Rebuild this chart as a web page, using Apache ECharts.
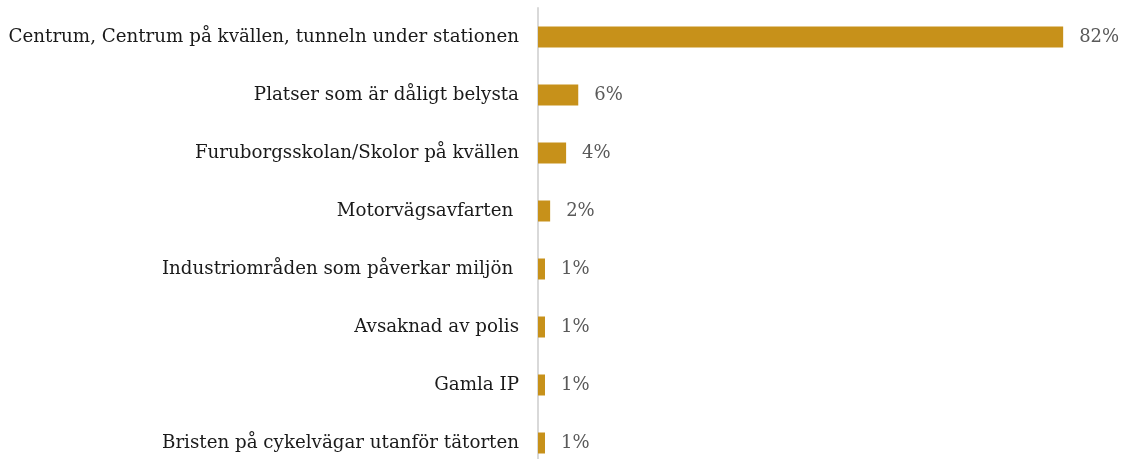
<!DOCTYPE html>
<html>
<head>
<meta charset="utf-8">
<script src="https://cdn.jsdelivr.net/npm/echarts@6/dist/echarts.min.js"></script>
<style>
  html, body { margin: 0; padding: 0; background: #fff; }
  #chart { width: 1123px; height: 459px; }
</style>
</head>
<body>
<div id="chart"></div>
<script>
var categories = [
  'Centrum, Centrum på kvällen, tunneln under stationen',
  'Platser som är dåligt belysta',
  'Furuborgsskolan/Skolor på kvällen',
  'Motorvägsavfarten ',
  'Industriområden som påverkar miljön ',
  'Avsaknad av polis',
  'Gamla IP',
  'Bristen på cykelvägar utanför tätorten'
];
// percentages
var values = [82.2, 6.3, 4.4, 1.9, 1.1, 1.1, 1.1, 1.1];

var chart = echarts.init(document.getElementById('chart'));
chart.setOption({
  animation: false,
  grid: { left: 538, right: 10, top: 8, bottom: -13, outerBoundsMode: 'none' },
  xAxis: {
    type: 'value',
    min: 0,
    max: 90,
    show: false
  },
  yAxis: {
    type: 'category',
    data: categories,
    inverse: true,
    axisLine: { show: true, lineStyle: { color: '#d9d9d9', width: 2 } },
    axisTick: { show: false },
    axisLabel: {
      margin: 19,
      color: '#1a1a1a',
      fontFamily: 'DejaVu Serif',
      fontSize: 18.25
    }
  },
  series: [{
    type: 'bar',
    data: values,
    barWidth: 21,
    itemStyle: { color: '#C7911A' },
    label: {
      show: true,
      position: 'right',
      distance: 16,
      color: '#595959',
      fontFamily: 'DejaVu Serif',
      fontSize: 18,
      formatter: function (p) { return Math.round(p.value) + '%'; }
    }
  }]
});
</script>
</body>
</html>
